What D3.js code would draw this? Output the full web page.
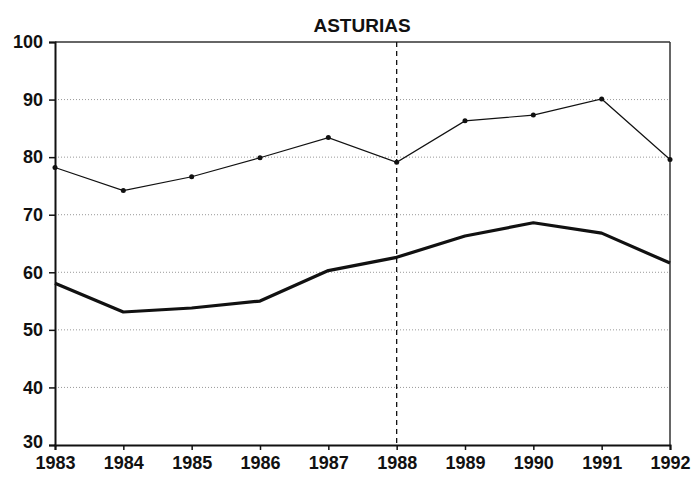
<!DOCTYPE html>
<html>
<head>
<meta charset="utf-8">
<script src="https://cdn.jsdelivr.net/npm/d3@7"></script>
<style>
  body { margin: 0; background: #fff; }
  svg { display: block; font-family: "Liberation Sans", Arial, sans-serif; }
</style>
</head>
<body>
<div id="chart"></div>
<script>
const years = [1983, 1984, 1985, 1986, 1987, 1988, 1989, 1990, 1991, 1992];
const upperSeries = [78.2, 74.2, 76.6, 79.9, 83.4, 79.1, 86.3, 87.3, 90.1, 79.6];
const lowerSeries = [58.1, 53.1, 53.8, 55.0, 60.3, 62.6, 66.3, 68.6, 66.8, 61.6];
const yTicks = [30, 40, 50, 60, 70, 80, 90, 100];
const markerYear = 1988;
const title = "ASTURIAS";

const width = 695, height = 478;
const margin = ({ top: 42, right: 25, bottom: 33, left: 55 });

const svg = d3.select("#chart").append("svg")
    .attr("width", width)
    .attr("height", height);

const x = d3.scaleLinear()
    .domain([d3.min(years), d3.max(years)])
    .range([margin.left, width - margin.right]);

const y = d3.scaleLinear()
    .domain([30, 100])
    .range([height - margin.bottom, margin.top]);

// dotted grid lines
svg.append("g")
    .selectAll("line")
    .data(yTicks.filter(d => d > 30 && d < 100))
    .join("line")
    .attr("x1", x.range()[0])
    .attr("x2", x.range()[1])
    .attr("y1", d => y(d))
    .attr("y2", d => y(d))
    .attr("stroke", "#999")
    .attr("stroke-width", 1)
    .attr("stroke-dasharray", "1,2");

// frame: top and right
svg.append("line")
    .attr("x1", x.range()[0]).attr("x2", x.range()[1])
    .attr("y1", y(100)).attr("y2", y(100))
    .attr("stroke", "#333").attr("stroke-width", 1.5);
svg.append("line")
    .attr("x1", x.range()[1]).attr("x2", x.range()[1])
    .attr("y1", y(100)).attr("y2", y(30))
    .attr("stroke", "#333").attr("stroke-width", 1.5);

// dashed vertical at 1988
svg.append("line")
    .attr("x1", x(markerYear)).attr("x2", x(markerYear))
    .attr("y1", y(100)).attr("y2", y(30))
    .attr("stroke", "#111").attr("stroke-width", 1.3)
    .attr("stroke-dasharray", "5,4");

// axes
const yAxis = svg.append("g")
    .attr("transform", `translate(${margin.left},0)`)
    .call(d3.axisLeft(y).tickValues(yTicks).tickSize(6).tickPadding(6));

const xAxis = svg.append("g")
    .attr("transform", `translate(0,${height - margin.bottom})`)
    .call(d3.axisBottom(x).tickValues(years).tickFormat(d3.format("d")).tickSize(5).tickPadding(6));

[yAxis, xAxis].forEach(a => {
  a.select(".domain").attr("stroke", "#111").attr("stroke-width", 2);
  a.selectAll(".tick line").attr("stroke", "#111").attr("stroke-width", 1.5);
  a.selectAll("text")
    .attr("fill", "#111")
    .style("font-size", "18px")
    .style("font-weight", "bold");
});
// lift the lowest y label a touch so it clears the year labels
yAxis.selectAll(".tick text").filter(d => d === 30).attr("dy", "0.15em");

const line = d3.line()
    .x((d, i) => x(years[i]))
    .y(d => y(d));

svg.append("path")
    .datum(upperSeries)
    .attr("d", line)
    .attr("fill", "none")
    .attr("stroke", "#111")
    .attr("stroke-width", 1.2);

svg.append("g")
    .selectAll("circle")
    .data(upperSeries)
    .join("circle")
    .attr("cx", (d, i) => x(years[i]))
    .attr("cy", d => y(d))
    .attr("r", 2.5)
    .attr("fill", "#111");

svg.append("path")
    .datum(lowerSeries)
    .attr("d", line)
    .attr("fill", "none")
    .attr("stroke", "#111")
    .attr("stroke-width", 3.2)
    .attr("stroke-linejoin", "round");

svg.append("text")
    .attr("x", 362)
    .attr("y", 32)
    .attr("text-anchor", "middle")
    .attr("fill", "#111")
    .style("font-size", "19px")
    .style("font-weight", "bold")
    .text(title);
</script>
</body>
</html>
